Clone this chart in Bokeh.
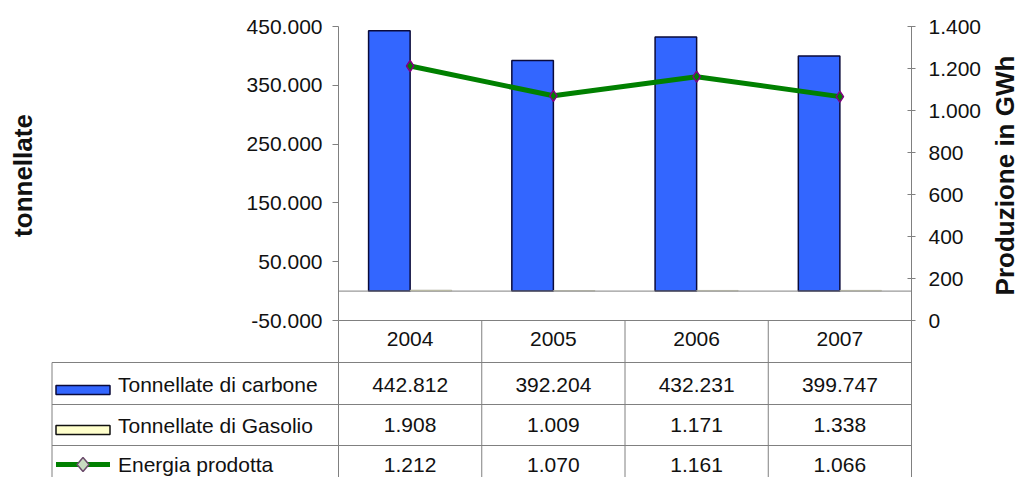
import math
from bokeh.plotting import figure
from bokeh.models import (Range1d, FactorRange, LinearAxis, FixedTicker, Span,
                          ColumnDataSource)
from bokeh.transform import dodge
from bokeh.embed import file_html
from bokeh.resources import INLINE
from bokeh.core.properties import value

# ---------------- data ----------------
years = ["2004", "2005", "2006", "2007"]
carbone = [442812, 392204, 432231, 399747]      # Tonnellate di carbone
gasolio = [1908, 1009, 1171, 1338]              # Tonnellate di Gasolio
energia = [1212, 1070, 1161, 1066]              # Energia prodotta (GWh)
series_names = ["Tonnellate di carbone", "Tonnellate di Gasolio", "Energia prodotta"]

left_ticks = [-50000, 50000, 150000, 250000, 350000, 450000]
left_labels = ["-50.000", "50.000", "150.000", "250.000", "350.000", "450.000"]
right_ticks = [0, 200, 400, 600, 800, 1000, 1200, 1400]
right_labels = ["0", "200", "400", "600", "800", "1.000", "1.200", "1.400"]

FONT = "Liberation Sans"
GRAY = "#808080"
TXT = "#111111"
BLUE = "#3366FF"
YELLOW = "#FFFFCC"
GREEN = "#008000"
PURPLE = "#800080"

W, H = 1021, 477
BL, BR, BT, BB = 338, 110, 26, 157
Y0, Y1 = -50000, 450000


def it_fmt(v):
    return f"{v:,}".replace(",", ".")


# ---------------- chart ----------------
p = figure(width=W, height=H, x_range=FactorRange(*years, range_padding=0),
           y_range=Range1d(Y0, Y1), output_backend="svg",
           toolbar_location=None, min_border_left=BL, min_border_right=BR,
           min_border_top=BT, min_border_bottom=BB)
p.outline_line_color = None
p.grid.visible = False
p.background_fill_color = "white"
p.border_fill_color = "white"

src = ColumnDataSource(dict(years=years, carbone=carbone, gasolio=gasolio, energia=energia))
p.extra_y_ranges = {"right": Range1d(0, 1400)}

# category axis = header row of the data table
xa = p.xaxis[0]
xa.axis_line_color = GRAY
xa.major_tick_line_color = None
xa.minor_tick_line_color = None
xa.major_label_standoff = 5
xa.major_label_text_font = FONT
xa.major_label_text_font_size = "21px"
xa.major_label_text_color = TXT

yl = p.yaxis[0]
yl.ticker = FixedTicker(ticks=left_ticks)
yl.major_label_overrides = {t: l for t, l in zip(left_ticks, left_labels)}
yl.minor_tick_line_color = None
yl.major_tick_in = 0
yl.major_tick_out = 6
yl.major_label_standoff = 10
yl.axis_line_color = GRAY
yl.major_tick_line_color = GRAY
yl.major_label_text_font = FONT
yl.major_label_text_font_size = "21px"
yl.major_label_text_color = TXT

yr = LinearAxis(y_range_name="right", ticker=FixedTicker(ticks=right_ticks))
yr.major_label_overrides = {t: l for t, l in zip(right_ticks, right_labels)}
yr.minor_tick_line_color = None
yr.major_tick_in = 4
yr.major_tick_out = 4
yr.major_label_standoff = 13
yr.axis_line_color = GRAY
yr.major_tick_line_color = GRAY
yr.major_label_text_font = FONT
yr.major_label_text_font_size = "21px"
yr.major_label_text_color = TXT
p.add_layout(yr, "right")

p.vbar(x=dodge("years", -0.145, range=p.x_range), top="carbone", bottom=0, width=0.29,
       source=src, fill_color=BLUE, line_color="#0a0a3a", line_width=1.5)
p.vbar(x=dodge("years", 0.145, range=p.x_range), top="gasolio", bottom=0, width=0.29,
       source=src, fill_color=YELLOW, line_color="#b0b0a0", line_width=0.5)

p.add_layout(Span(location=0, dimension="width", line_color=GRAY, line_width=1,
                  level="overlay"))

p.line(x="years", y="energia", source=src, y_range_name="right",
       line_color=GREEN, line_width=5)
p.scatter(x="years", y="energia", source=src, y_range_name="right", marker="diamond",
          size=11, fill_color=GREEN, line_color=PURPLE, line_width=1.5)

# ---------------- helpers for drawing outside the frame ----------------
ncat = len(years)
frame_h = H - BT - BB
frame_w = W - BL - BR
col_px = frame_w / ncat
u_per_px = (Y1 - Y0) / frame_h


def below(px):
    """left-axis value that lies px pixels below the bottom of the plot frame"""
    return Y0 - px * u_per_px


title_y = Y1 - (175 - BT) * u_per_px
LV = "overlay"

# axis titles
p.text(x=[0], y=[title_y], text=["tonnellate"], x_offset=22 - BL, angle=math.pi / 2,
       text_align="center", text_baseline="middle", text_font=value(FONT),
       text_font_size="26px", text_font_style="bold", text_color=TXT, level=LV)
p.text(x=[ncat], y=[title_y], text=["Produzione in GWh"], x_offset=1004 - (W - BR),
       angle=math.pi / 2, text_align="center", text_baseline="middle",
       text_font=value(FONT), text_font_size="26px", text_font_style="bold",
       text_color=TXT, level=LV)

# ---------------- data table under the chart ----------------
label_cols = 2            # the row-name column is two category widths wide
row_edges_px = [0, 42, 84, 125]
row_mid_px = [64, 104.5, 144]
bottom_px = 170

hy = [below(v) for v in row_edges_px[1:]]
p.segment(x0=[-label_cols] * len(hy), y0=hy, x1=[ncat] * len(hy), y1=hy,
          line_color=GRAY, line_width=1, level=LV)
vx = [-label_cols] + list(range(ncat + 1))
vy0 = [below(row_edges_px[1])] + [below(0)] * (ncat + 1)
vy1 = [below(bottom_px)] * len(vx)
p.segment(x0=vx, y0=vy0, x1=vx, y1=vy1, line_color=GRAY, line_width=1, level=LV)

vals = [[it_fmt(v) for v in carbone], [it_fmt(v) for v in gasolio],
        [it_fmt(v) for v in energia]]
tx, ty, tt = [], [], []
for r, row in enumerate(vals):
    for yv, s in zip(years, row):
        tx.append(yv)
        ty.append(below(row_mid_px[r]))
        tt.append(s)
p.text(x=tx, y=ty, text=tt, text_align="center", text_baseline="middle",
       text_font=value(FONT), text_font_size="21px", text_color=TXT, level=LV)
p.text(x=[-label_cols] * 3, y=[below(v) for v in row_mid_px], text=series_names,
       x_offset=66, text_align="left", text_baseline="middle", text_font=value(FONT),
       text_font_size="21px", text_color=TXT, level=LV)

# legend keys
kx0 = -label_cols + 4 / col_px
kx1 = -label_cols + 58 / col_px
kc = (kx0 + kx1) / 2
p.quad(left=[kx0, kx0], right=[kx1, kx1], top=[below(65), below(105)],
       bottom=[below(74), below(114)], fill_color=[BLUE, YELLOW],
       line_color=["#0a0a3a", "#111111"], line_width=1.5, level=LV)
p.segment(x0=[kx0], y0=[below(144)], x1=[kx1], y1=[below(144)], line_color=GREEN,
          line_width=5, level=LV)
dx, dy = 6 / col_px, 7 * u_per_px
p.patch(x=[kc - dx, kc, kc + dx, kc], y=[below(144), below(144) + dy, below(144),
                                         below(144) - dy],
        fill_color="#c8dcc0", line_color="#6a4a6a", line_width=1.5, level=LV)

open("out.html", "w").write(file_html(p, INLINE))
